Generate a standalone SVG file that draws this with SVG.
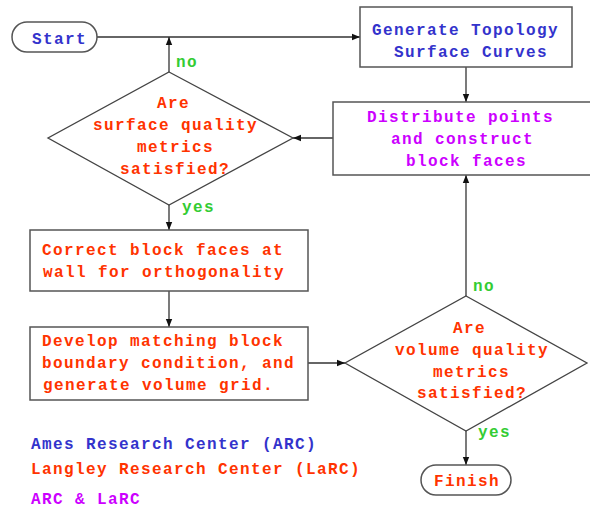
<svg xmlns="http://www.w3.org/2000/svg" width="590" height="510" viewBox="0 0 590 510">
<style>
text{font-family:"Liberation Mono","Courier New",monospace;font-weight:bold;font-size:16px;letter-spacing:1.4px}
.b{fill:#3333cc}.r{fill:#ff3300}.m{fill:#cc00ff}.g{fill:#33cc33}
.box{fill:#fff;stroke:#555;stroke-width:1.5}
.ln{fill:none;stroke:#333;stroke-width:1.3}
</style>
<defs>
<marker id="ah" viewBox="0 0 10 10" refX="10" refY="5" markerWidth="8" markerHeight="8" markerUnits="userSpaceOnUse" orient="auto">
<path d="M0,1 L10,5 L0,9 z" fill="#111"/>
</marker>
</defs>
<rect width="590" height="510" fill="#fff"/>
<g id="connectors">
<path class="ln" d="M97,37 H360" marker-end="url(#ah)"/>
<path class="ln" d="M169,72 V37" marker-end="url(#ah)"/>
<path class="ln" d="M466,67 V102" marker-end="url(#ah)"/>
<path class="ln" d="M333,138 H293" marker-end="url(#ah)"/>
<path class="ln" d="M169,205 V230" marker-end="url(#ah)"/>
<path class="ln" d="M169,291 V327" marker-end="url(#ah)"/>
<path class="ln" d="M308,363 H345" marker-end="url(#ah)"/>
<path class="ln" d="M466,296 V175" marker-end="url(#ah)"/>
<path class="ln" d="M466,431 V465" marker-end="url(#ah)"/>
</g>
<g id="start">
<rect class="box" x="12" y="22" width="85" height="30" rx="15"/>
<text class="b" x="32" y="44">Start</text>
</g>
<g id="generate">
<rect class="box" x="360" y="7" width="212" height="60"/>
<text class="b" x="372" y="35">Generate Topology</text>
<text class="b" x="394" y="57">Surface Curves</text>
</g>
<g id="distribute">
<rect class="box" x="333" y="102" width="262" height="73"/>
<text class="m" x="367" y="122">Distribute points</text>
<text class="m" x="391" y="144">and construct</text>
<text class="m" x="406" y="166">block faces</text>
</g>
<g id="surface-check">
<path class="ln" style="stroke:#444" d="M169,72 L293,138 L169,205 L48,138 Z"/>
<text class="r" x="157" y="108">Are</text>
<text class="r" x="93" y="130">surface quality</text>
<text class="r" x="137" y="152">metrics</text>
<text class="r" x="120" y="174">satisfied?</text>
<text class="g" x="176" y="67">no</text>
<text class="g" x="182" y="212">yes</text>
</g>
<g id="correct">
<rect class="box" x="30" y="230" width="278" height="61"/>
<text class="r" x="42" y="255">Correct block faces at</text>
<text class="r" x="43" y="277">wall for orthogonality</text>
</g>
<g id="develop">
<rect class="box" x="30" y="327" width="278" height="73"/>
<text class="r" x="42" y="346">Develop matching block</text>
<text class="r" x="42" y="368">boundary condition, and</text>
<text class="r" x="43" y="390">generate volume grid.</text>
</g>
<g id="volume-check">
<path class="ln" style="stroke:#444" d="M466,296 L587,363 L466,431 L345,363 Z"/>
<text class="r" x="453" y="333">Are</text>
<text class="r" x="395" y="355">volume quality</text>
<text class="r" x="433" y="377">metrics</text>
<text class="r" x="417" y="398">satisfied?</text>
<text class="g" x="473" y="291">no</text>
<text class="g" x="478" y="437">yes</text>
</g>
<g id="finish">
<rect class="box" x="421" y="465" width="90" height="30" rx="15"/>
<text class="r" x="434" y="486">Finish</text>
</g>
<g id="legend">
<text class="b" x="31" y="449">Ames Research Center (ARC)</text>
<text class="r" x="31" y="474">Langley Research Center (LaRC)</text>
<text class="m" x="31" y="504">ARC &amp; LaRC</text>
</g>
</svg>
